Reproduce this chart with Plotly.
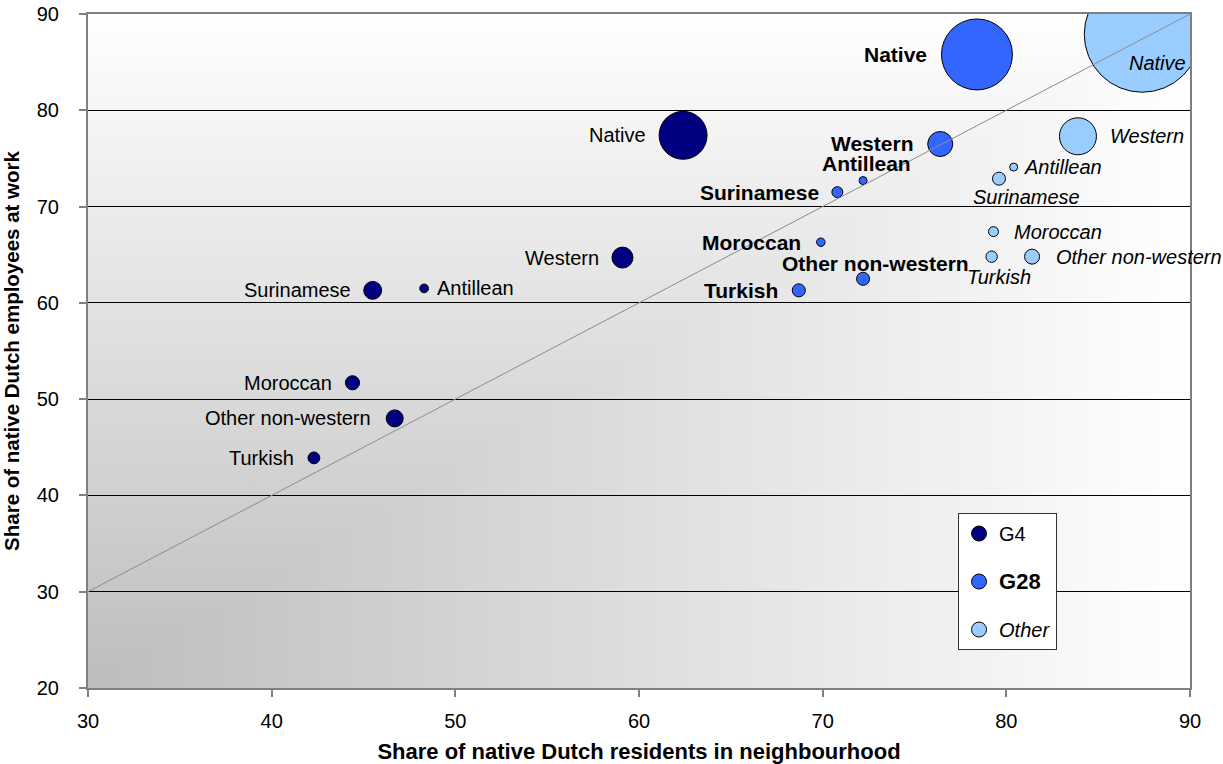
import base64
import math
import plotly.graph_objects as go

# ---- data -------------------------------------------------------------
categories = ["Native", "Western", "Antillean", "Surinamese", "Moroccan",
              "Other non-western", "Turkish"]

# share of native Dutch residents in neighbourhood (x) and
# share of native Dutch employees at work (y), plus bubble size
g4_x = [62.4, 59.1, 48.3, 45.5, 44.4, 46.7, 42.3]
g4_y = [77.4, 64.7, 61.5, 61.3, 51.7, 48.0, 43.9]
g4_size = [23.0, 4.4, 0.76, 3.2, 2.0, 2.9, 1.4]

g28_x = [78.4, 76.4, 72.2, 70.8, 69.9, 72.2, 68.7]
g28_y = [85.8, 76.5, 72.7, 71.5, 66.3, 62.5, 61.3]
g28_size = [50.4, 6.25, 0.64, 1.2, 0.72, 1.7, 1.7]

other_x = [87.4, 83.9, 80.4, 79.6, 79.3, 81.4, 79.2]
other_y = [87.9, 77.3, 74.1, 72.9, 67.4, 64.8, 64.8]
other_size = [134.6, 13.7, 0.64, 1.7, 1.0, 2.25, 1.3]

x_ticks = [30, 40, 50, 60, 70, 80, 90]
y_ticks = [20, 30, 40, 50, 60, 70, 80, 90]

# ---- styling ----------------------------------------------------------
FONT = "Liberation Sans, Arial, sans-serif"
COL_G4 = "#000080"
COL_G28 = "#3366FF"
COL_OTHER = "#99CCFF"

MAX_DIAM = 116
all_sizes = g4_size + g28_size + other_size
SIZEREF = 2.0 * max(all_sizes) / MAX_DIAM ** 2


def diam(v):
    return MAX_DIAM * math.sqrt(v / max(all_sizes))


# label placement per series: (mode, gap or (dx, dy))
g4_place = [("left", 11), ("left", 11), ("right", 7), ("left", 11),
            ("left", 11), ("left", 13), ("left", 12)]
g28_place = [("left", 12), ("left", 13), ("free", (3, 17)), ("left", 11),
             ("left", 14), ("free", (12, 15)), ("left", 12)]
other_place = [("inside", (46, -29)), ("right", 12), ("right", 4),
               ("free", (28, -18)), ("right", 14), ("right", 14),
               ("free", (7, -20))]

# corner gradient for the plot background: a vertical ramp over the whole
# area, with a horizontal ramp over the lower-right triangle
svg = (
    "<svg xmlns='http://www.w3.org/2000/svg' width='600' height='400' "
    "viewBox='0 0 1 1' preserveAspectRatio='none'>"
    "<defs>"
    "<linearGradient id='h' x1='0' y1='0' x2='1' y2='0'>"
    "<stop offset='0' stop-color='#bdbdbd'/><stop offset='1' stop-color='#ffffff'/>"
    "</linearGradient>"
    "<linearGradient id='v' x1='0' y1='1' x2='0' y2='0'>"
    "<stop offset='0' stop-color='#bdbdbd'/><stop offset='1' stop-color='#ffffff'/>"
    "</linearGradient>"
    "</defs>"
    "<rect x='0' y='0' width='1' height='1' fill='url(#v)'/>"
    "<polygon points='0,1 1,1 1,0' fill='url(#h)'/>"
    "</svg>"
)
bg_src = "data:image/svg+xml;base64," + base64.b64encode(svg.encode()).decode()

fig = go.Figure()


def add_series(name, xs, ys, sizes, color):
    fig.add_trace(go.Scatter(
        x=xs, y=ys, mode="markers", name=name, showlegend=False,
        text=categories,
        marker=dict(size=sizes, sizemode="area", sizeref=SIZEREF,
                    color=color, opacity=1,
                    line=dict(color="black", width=1)),
        hovertemplate="%{text}<br>%{x}, %{y}<extra>" + name + "</extra>",
    ))


add_series("G4", g4_x, g4_y, g4_size, COL_G4)
add_series("G28", g28_x, g28_y, g28_size, COL_G28)
add_series("Other", other_x, other_y, other_size, COL_OTHER)

# 45-degree reference line
fig.add_trace(go.Scatter(
    x=[30, 90], y=[30, 90], mode="lines", showlegend=False, hoverinfo="skip",
    line=dict(color="#8c8c8c", width=1),
))

# legend entries
legend_items = [
    ("G4", COL_G4, "G4"),
    ("G28", COL_G28, "<b><span style='font-size:22px'>G28</span></b>"),
    ("Other", COL_OTHER, "<i>Other</i>"),
]
for grp, col, label in legend_items:
    fig.add_trace(go.Scatter(
        x=[None], y=[None], mode="markers", name=label, legendgroup=grp,
        marker=dict(size=15, color=col, line=dict(color="black", width=1)),
    ))

# data labels
annotations = []


def add_labels(xs, ys, sizes, placement, font):
    for cat, x, y, s, (mode, p) in zip(categories, xs, ys, sizes, placement):
        r = diam(s) / 2.0
        if mode == "left":
            xa, dx, dy = "right", -(r + p), 0
        elif mode == "right":
            xa, dx, dy = "left", r + p, 0
        elif mode == "inside":
            xa, dx, dy = "right", p[0], p[1]
        else:
            xa, dx, dy = "center", p[0], p[1]
        annotations.append(dict(
            x=x, y=y, xref="x", yref="y", text=cat, showarrow=False,
            xanchor=xa, yanchor="middle", xshift=dx, yshift=dy, font=font,
        ))


add_labels(g4_x, g4_y, g4_size, g4_place,
           dict(family=FONT, size=20, color="black"))
add_labels(g28_x, g28_y, g28_size, g28_place,
           dict(family=FONT, size=21, color="black", weight="bold"))
add_labels(other_x, other_y, other_size, other_place,
           dict(family=FONT, size=20, color="black", style="italic"))

fig.update_layout(
    width=1223, height=764,
    margin=dict(l=88, r=33, t=14, b=76, autoexpand=False),
    paper_bgcolor="white", plot_bgcolor="white",
    font=dict(family=FONT, size=20, color="black"),
    showlegend=True,
    legend=dict(
        x=0.7895, y=0.2596, xanchor="left", yanchor="top",
        bgcolor="white", bordercolor="#333333", borderwidth=1,
        font=dict(family=FONT, size=20, color="black"),
        traceorder="grouped", tracegroupgap=19, itemwidth=30,
    ),
    annotations=annotations,
    images=[dict(source=bg_src, xref="x", yref="y", x=30, y=90,
                 sizex=60, sizey=70, sizing="stretch", layer="below")],
    xaxis=dict(
        range=[30, 90], tickvals=x_ticks, showgrid=False, zeroline=False,
        automargin=False,
        showline=True, linecolor="#7f7f7f", linewidth=2, mirror=True,
        ticks="outside", ticklen=7, tickcolor="#7f7f7f", tickwidth=2,
        ticklabelstandoff=7,
        tickfont=dict(family=FONT, size=20, color="black"),
        title=dict(text="<b>Share of native Dutch residents in neighbourhood</b>",
                   font=dict(family=FONT, size=22, color="black"), standoff=14),
    ),
    yaxis=dict(
        range=[20, 90], tickvals=y_ticks, showgrid=True, gridcolor="black",
        gridwidth=1, zeroline=False, automargin=False,
        showline=True, linecolor="#7f7f7f", linewidth=2, mirror=True,
        ticks="outside", ticklen=7, tickcolor="#7f7f7f", tickwidth=2,
        ticklabelstandoff=16,
        tickfont=dict(family=FONT, size=20, color="black"),
        title=dict(text="<b>Share of native Dutch employees at work</b>",
                   font=dict(family=FONT, size=20.5, color="black"), standoff=12),
    ),
)

fig.write_html("out.html")
